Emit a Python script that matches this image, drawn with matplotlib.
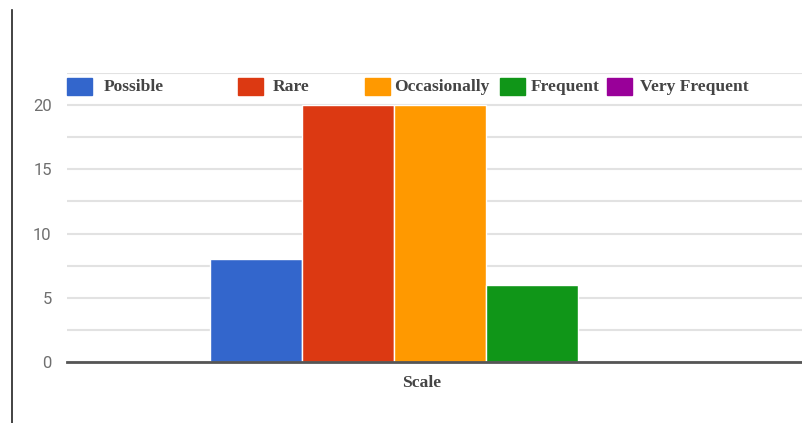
import matplotlib
matplotlib.use("Agg")
import matplotlib.pyplot as plt
from matplotlib.patches import Rectangle
from matplotlib.lines import Line2D
from matplotlib.transforms import blended_transform_factory

# data
series = ["Possible", "Rare", "Occasionally", "Frequent", "Very Frequent"]
values = [8, 20, 20, 6, 0]
colors = ["#3366cc", "#dc3912", "#ff9900", "#109618", "#990099"]
category = "Scale"

W, H = 802, 423
fig = plt.figure(figsize=(W / 100, H / 100), dpi=100)
fig.patch.set_facecolor("white")

ax = fig.add_axes([67 / W, 1 - 362 / H, 1 - 67 / W, (362 - 73) / H])

# bars side by side, centred on 0
offsets = [i - (len(series) - 1) / 2 for i in range(len(series))]
for off, v, c in zip(offsets, values, colors):
    ax.bar(off, v, width=1.0, color=c, edgecolor="white", linewidth=1, zorder=3)

ax.set_xlim(-4.054, 3.935)
ax.set_ylim(0, 22.5)

# grid every 2.5, labels every 5
ax.set_yticks([0, 5, 10, 15, 20])
ax.set_yticks([2.5, 7.5, 12.5, 17.5, 22.5], minor=True)
ax.grid(axis="y", which="both", color="#e2e2e2", linewidth=1.5, zorder=0)
ax.tick_params(axis="y", which="both", length=0, pad=11, labelsize=12,
               labelcolor="#6f6f6f")
for lbl in ax.get_yticklabels():
    lbl.set_family("Roboto")
ax.set_xticks([])

for s in ["top", "right", "left"]:
    ax.spines[s].set_visible(False)
ax.spines["bottom"].set_color("#555555")
ax.spines["bottom"].set_linewidth(2)
ax.spines["bottom"].set_zorder(4)

trans = blended_transform_factory(ax.transData, ax.transAxes)
ax.text(-0.2, -0.073, category, transform=trans, ha="center", va="center",
        family="Liberation Serif", weight="bold", fontsize=12.6, color="#444444")

# legend drawn across the top band
box_x = [67, 238, 365, 500, 607]
text_x = [104, 273, 394, 531, 640]
for bx, tx, name, c in zip(box_x, text_x, series, colors):
    fig.patches.append(Rectangle((bx / W, 1 - 95 / H), 25 / W, 17 / H,
                                 transform=fig.transFigure, color=c))
    fig.text(tx / W, 1 - 87 / H, name, ha="left", va="center",
             family="Liberation Serif", weight="bold", fontsize=12.6,
             color="#444444")

# left frame line
fig.lines.append(Line2D([11.5 / W, 11.5 / W], [0, 1 - 10 / H],
                        transform=fig.transFigure, color="#222222",
                        linewidth=1.2))

fig.savefig("out.png", dpi=100)
